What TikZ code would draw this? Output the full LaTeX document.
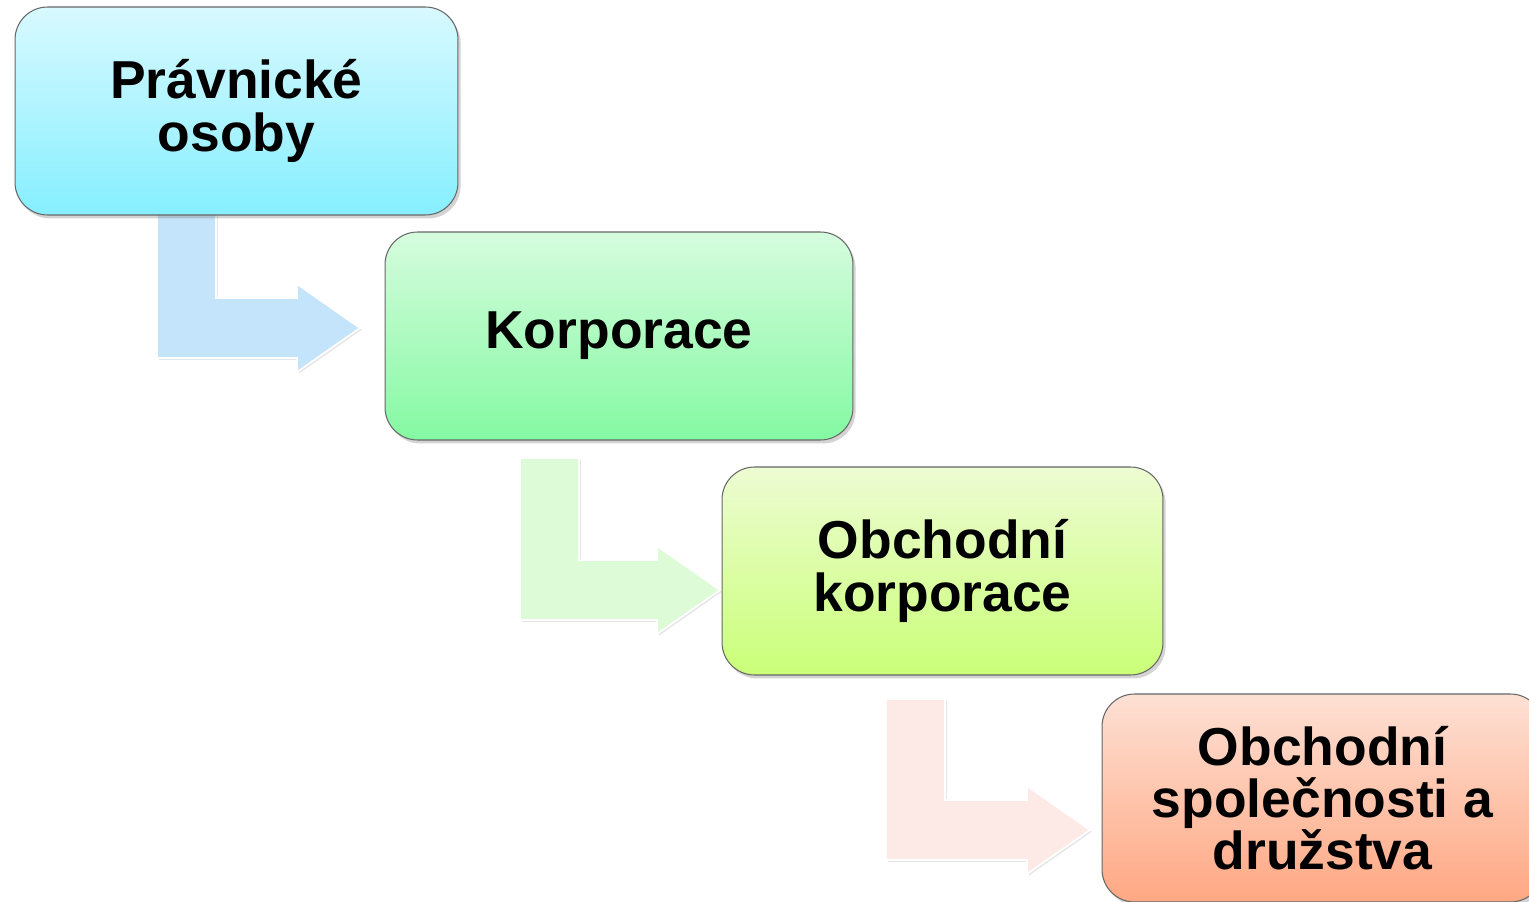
\documentclass[tikz,border=0pt]{standalone}
\usepackage{fontspec}
\setmainfont{Liberation Sans}
\usetikzlibrary{shadows}

\definecolor{legaltop}{HTML}{D8F9FF}
\definecolor{legalbot}{HTML}{86EFFF}
\definecolor{corptop}{HTML}{D6FCDE}
\definecolor{corpbot}{HTML}{84F9A2}
\definecolor{tradetop}{HTML}{EDFCD2}
\definecolor{tradebot}{HTML}{CAFF78}
\definecolor{comptop}{HTML}{FDE0D4}
\definecolor{compbot}{HTML}{FFA883}
\definecolor{bendblue}{HTML}{C3E4FB}
\definecolor{bendgreen}{HTML}{DCFBD6}
\definecolor{bendrose}{HTML}{FDE9E6}

% bent block arrow: colour, stem left x, stem top y, tip x, tip y
\newcommand{\bentarrow}[5]{%
  \fill[#1, bendline] (#2,#3) -- (#2+59,#3) -- (#2+59,#5-30) -- (#4-63,#5-30)
    -- (#4-63,#5-44) -- (#4,#5) -- (#4-63,#5+44) -- (#4-63,#5+30)
    -- (#2,#5+30) -- cycle;}

\begin{document}
\begin{tikzpicture}[x=0.02cm, y=-0.02cm]
  \tikzset{stage/.style={draw=black!60, line width=0.6pt, rounded corners=0.65cm,
             minimum height=4.16cm, align=center,
             font=\bfseries\fontsize{30.4}{29.7}\selectfont,
             drop shadow={shadow xshift=1.5pt, shadow yshift=-2pt, opacity=0.35}},
           bendline/.style={draw=white, line width=1pt,
             drop shadow={shadow xshift=1pt, shadow yshift=-1pt, opacity=0.2}}}
  \useasboundingbox (0,0) rectangle (1529,902);
  \bentarrow{bendblue}{157}{200}{360}{328}
  \bentarrow{bendgreen}{520}{458}{720}{590}
  \bentarrow{bendrose}{886}{699}{1090}{830}
  \node[stage, minimum width=8.86cm, top color=legaltop, bottom color=legalbot]
    (legal) at (236.5,111) {Právnické\\osoby};
  \node[stage, minimum width=9.36cm, top color=corptop, bottom color=corpbot]
    (corp) at (619,336) {Korporace};
  \node[stage, minimum width=8.82cm, top color=tradetop, bottom color=tradebot]
    (trade) at (942.5,571) {Obchodní\\korporace};
  \node[stage, minimum width=8.82cm, top color=comptop, bottom color=compbot]
    (comp) at (1322.5,798) {Obchodní\\společnosti a\\družstva};
\end{tikzpicture}
\end{document}
